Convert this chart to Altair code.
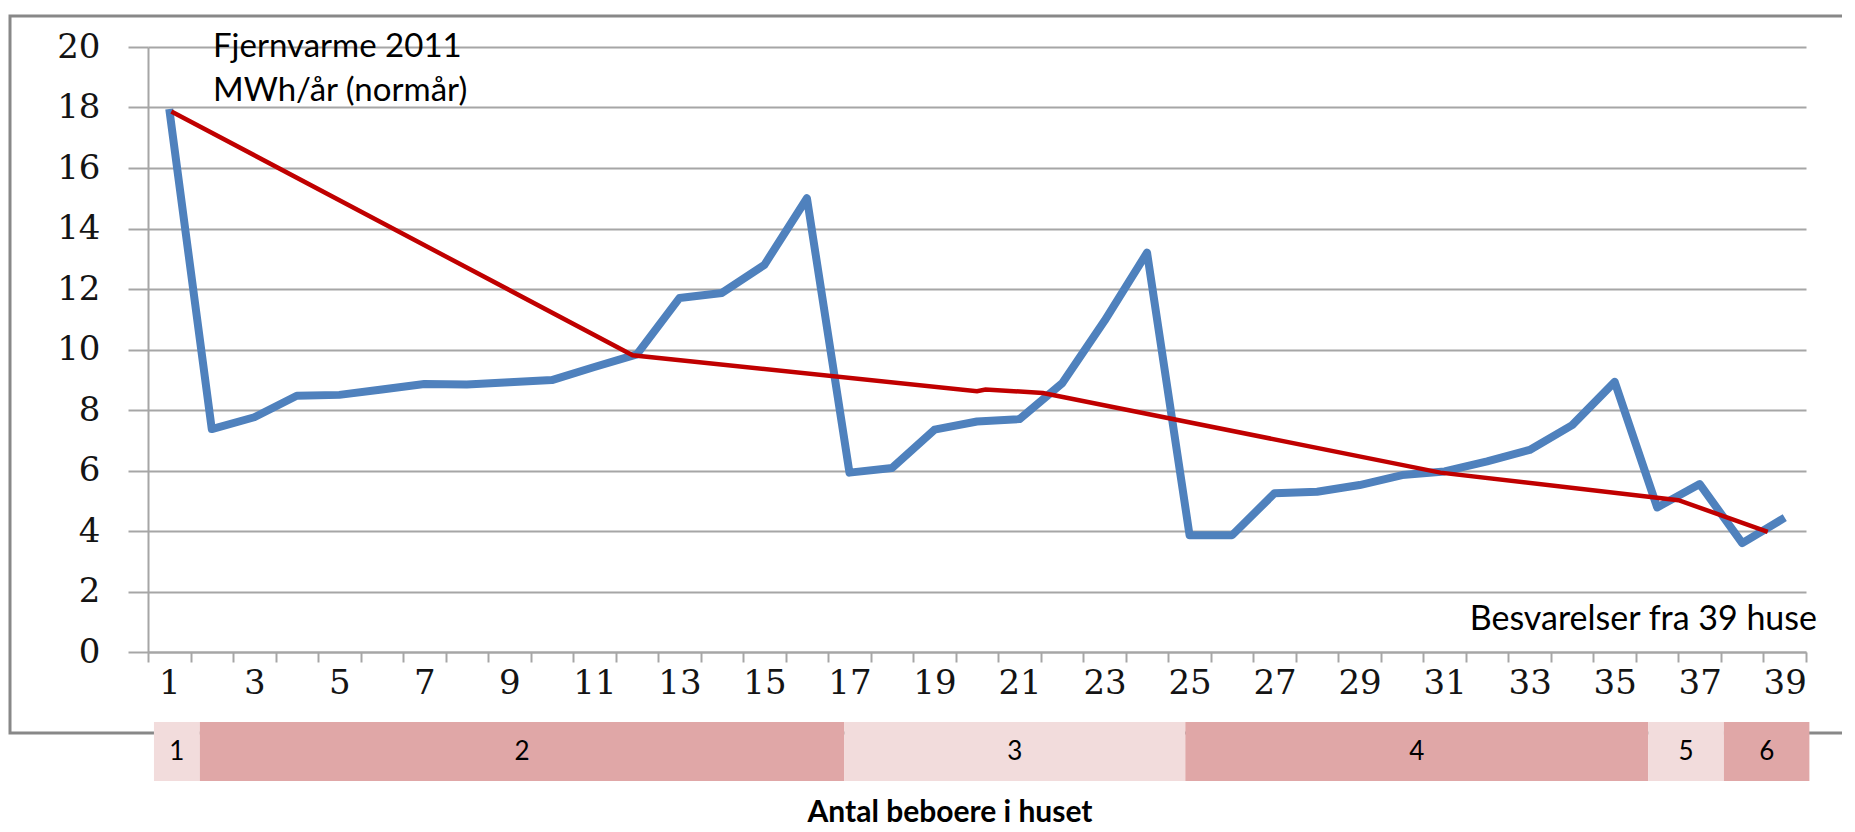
import altair as alt
import pandas as pd

# ---- data ----
houses = list(range(1, 40))
fjernvarme = [17.95, 7.37, 7.76, 8.47, 8.5, 8.68, 8.86, 8.84, 8.92, 8.99,
              9.42, 9.84, 11.7, 11.87, 12.8, 15.0, 5.93, 6.08, 7.35, 7.62,
              7.7, 8.88, 10.95, 13.2, 3.86, 3.86, 5.25, 5.3, 5.52, 5.85,
              5.97, 6.3, 6.68, 7.5, 8.93, 4.78, 5.55, 3.6, 4.44]

trend_x = [1.05, 11.9, 20.0, 20.2, 21.55, 30.9, 36.5, 38.6]
trend_y = [17.87, 9.81, 8.62, 8.68, 8.56, 5.93, 5.02, 3.97]

group_labels = [1, 2, 3, 4, 5, 6]
group_start = [0.64, 1.72, 16.88, 24.9, 35.79, 37.57]
group_end = [1.72, 16.88, 24.9, 35.79, 37.57, 39.58]

y_ticks = list(range(0, 21, 2))
x_tick_values = [k + 0.5 for k in range(0, 40)] + list(range(1, 40, 2))

ann_title = ["Fjernvarme 2011", "MWh/år (normår)"]
ann_note = "Besvarelser fra 39 huse"
x_title = "Antal beboere i huset"

# ---- styling ----
BLUE = "#4F81BD"
RED = "#C00000"
GRID = "#A6A6A6"
DARK = "#E0A7A7"
LIGHT = "#F2DCDC"
TICKFONT = "DejaVu Serif"
TEXTFONT = "Lato"

W, H = 1658, 605
XDOM = [0.5, 39.5]

df = pd.DataFrame({"house": houses, "value": fjernvarme})
trend = pd.DataFrame({"x": trend_x, "y": trend_y})
groups = pd.DataFrame({"g": group_labels, "start": group_start, "end": group_end})

xscale = alt.Scale(domain=XDOM, nice=False, zero=False)
yscale = alt.Scale(domain=[0, 20], nice=False)

xaxis = alt.Axis(
    values=x_tick_values,
    labelExpr="datum.value % 2 === 1 ? format(datum.value, 'd') : ''",
    labelFont=TICKFONT,
    labelFontSize=34,
    labelColor="#141414",
    labelPadding=4,
    labelFlush=False,
    labelOverlap=False,
    tickSize=10,
    tickColor=GRID,
    tickWidth=2,
    tickOpacity={"condition": {"test": "datum.value % 1 !== 0", "value": 1}, "value": 0},
    domainColor=GRID,
    domainWidth=2,
    grid=False,
    title=None,
)
yaxis = alt.Axis(
    values=y_ticks,
    labelFont=TICKFONT,
    labelFontSize=34,
    labelColor="#141414",
    labelPadding=28,
    tickSize=20,
    tickColor=GRID,
    tickWidth=2,
    domainColor=GRID,
    domainWidth=2,
    grid=True,
    gridColor=GRID,
    gridWidth=2,
    title=None,
)

border = alt.Chart(alt.Data(values=[{}])).mark_rect(
    fill=None, stroke="#888888", strokeWidth=3
).encode(
    x=alt.value(-138), x2=alt.value(1730), y=alt.value(-31), y2=alt.value(686)
)

bars = alt.Chart(groups).mark_rect().encode(
    x=alt.X("start:Q", scale=xscale, axis=xaxis),
    x2="end:Q",
    y=alt.value(675),
    y2=alt.value(734),
    color=alt.condition("datum.g % 2 == 1", alt.value(LIGHT), alt.value(DARK)),
)

bar_text = alt.Chart(groups).transform_calculate(
    mid="(datum.start + datum.end) / 2"
).mark_text(font=TEXTFONT, fontSize=26, color="black", baseline="middle").encode(
    x=alt.X("mid:Q", scale=xscale, axis=xaxis),
    y=alt.value(705),
    text="g:N",
)

blue = alt.Chart(df).mark_line(color=BLUE, strokeWidth=8, strokeJoin="round").encode(
    x=alt.X("house:Q", scale=xscale, axis=xaxis),
    y=alt.Y("value:Q", scale=yscale, axis=yaxis),
)

red = alt.Chart(trend).mark_line(color=RED, strokeWidth=4.5).encode(
    x=alt.X("x:Q", scale=xscale, axis=xaxis),
    y=alt.Y("y:Q", scale=yscale, axis=yaxis),
)

ann1 = alt.Chart(alt.Data(values=[{"t": ann_title[0]}])).mark_text(
    font=TEXTFONT, fontSize=33, align="left", baseline="middle", color="black"
).encode(x=alt.value(65), y=alt.value(0), text="t:N")

ann2 = alt.Chart(alt.Data(values=[{"t": ann_title[1]}])).mark_text(
    font=TEXTFONT, fontSize=33, align="left", baseline="middle", color="black"
).encode(x=alt.value(65), y=alt.value(44), text="t:N")

ann3 = alt.Chart(alt.Data(values=[{"t": ann_note}])).mark_text(
    font=TEXTFONT, fontSize=34, align="right", baseline="middle", color="black"
).encode(x=alt.value(1669), y=alt.value(573), text="t:N")

xtitle = alt.Chart(alt.Data(values=[{"t": x_title}])).mark_text(
    font=TEXTFONT, fontSize=30, fontWeight="bold", align="center", baseline="middle", color="black"
).encode(x=alt.value(802), y=alt.value(766), text="t:N")

chart = alt.layer(
    border, blue, red, bars, bar_text, ann1, ann2, ann3, xtitle
).properties(
    width=W,
    height=H,
    autosize=alt.AutoSizeParams(type="none"),
    padding={"left": 140, "top": 39, "right": 36, "bottom": 180},
).configure_view(stroke=None)

chart.save("out.html", embed_options={"renderer": "svg", "actions": False})
